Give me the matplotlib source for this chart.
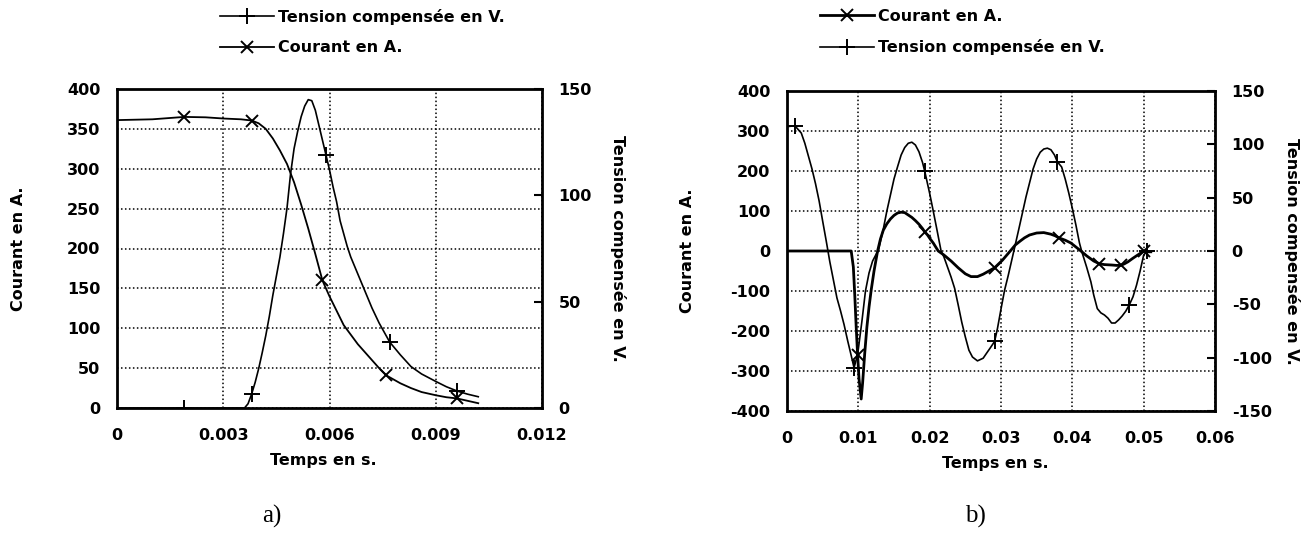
import numpy as np
import matplotlib
matplotlib.use('Agg')
import matplotlib.pyplot as plt
from matplotlib.ticker import FuncFormatter

plt.rcParams['font.family'] = ['DejaVu Sans']
plt.rcParams['font.size'] = 11.5
plt.rcParams['font.weight'] = 'bold'
plt.rcParams['axes.labelweight'] = 'bold'
plt.rcParams['axes.unicode_minus'] = False

# ---- panel a) : courant (A, left axis) and tension compensée (V, right axis)
t_courant_a = [0, 0.001, 0.0019, 0.0025, 0.003, 0.0035, 0.0038,
               0.0040, 0.0042, 0.0044, 0.0046, 0.0048, 0.0050, 0.0052, 0.0054,
               0.0056, 0.0058, 0.0060, 0.0062, 0.0064, 0.0066, 0.0068, 0.0070,
               0.0072, 0.0074, 0.0076, 0.0078, 0.0080,
               0.0083, 0.0086, 0.0090, 0.0093, 0.0096, 0.0099, 0.0102]
courant_a = [361, 362, 365, 364.5, 363, 362, 360.5,
             357, 350, 338, 323, 306, 283, 255, 225,
             193, 160, 140, 122, 104, 92, 80, 70,
             60, 50, 41, 36, 31,
             25, 20, 16, 13.5, 12, 9, 6]
courant_a_marks = [0.0019, 0.0038, 0.0058, 0.0076, 0.0096]

t_tension_a = [0, 0.001, 0.0019, 0.003,
               0.0036, 0.0037, 0.0038, 0.0039, 0.0040, 0.0041, 0.0042, 0.0043,
               0.0044, 0.0045, 0.0046, 0.0047, 0.0048, 0.0049, 0.0050, 0.0051,
               0.0052, 0.0053, 0.0054, 0.0055, 0.0056, 0.0057, 0.0058, 0.0059,
               0.0060, 0.0061, 0.0062, 0.0063, 0.0064, 0.0065, 0.0066,
               0.0068, 0.0070, 0.0072, 0.0074, 0.0077, 0.0080, 0.0083, 0.0086,
               0.0090, 0.0093, 0.0096, 0.0099, 0.0102]
tension_a = [0, 0, 0, 0,
             0, 2, 6.5, 12, 18.5, 26, 34, 43,
             53, 62, 71, 82, 94, 110, 122, 130,
             137, 142, 145, 144.5, 140, 133, 126, 119,
             112, 104, 97, 88, 82, 76, 71,
             63, 55, 47, 40, 31, 25, 19.5, 16,
             12.5, 10, 8, 6.5, 5.3]
tension_a_marks = [0.0019, 0.0038, 0.0059, 0.0077, 0.0096]

# ---- panel b)
t_courant_b = [0, 0.003, 0.006, 0.009, 0.0093, 0.0095, 0.0097, 0.0099, 0.0101,
               0.0104, 0.0106, 0.0109, 0.0112, 0.0115, 0.0118, 0.0122, 0.0127,
               0.0131, 0.0135, 0.014, 0.0145, 0.015, 0.0155, 0.016, 0.0165,
               0.017, 0.0175, 0.018, 0.0185, 0.019, 0.0193, 0.0197, 0.02,
               0.0205, 0.0212, 0.022, 0.023, 0.024, 0.025, 0.0258, 0.0267,
               0.0275, 0.0283, 0.0291, 0.0302, 0.0313, 0.032, 0.0327, 0.0333,
               0.034, 0.035, 0.036, 0.037, 0.0376, 0.0381, 0.039, 0.0398,
               0.0405, 0.0412, 0.042, 0.043, 0.0438, 0.0445, 0.0455, 0.0462,
               0.0468, 0.0473, 0.0478, 0.0485, 0.049, 0.0496, 0.0501, 0.0506, 0.051]
courant_b = [0, 0, 0, 0, -40, -110, -190, -260, -320,
             -370, -330, -255, -190, -140, -98, -50, 0,
             30, 52, 68, 80, 89, 95, 97, 96,
             90, 84, 76, 67, 56, 48, 40, 32,
             20, 0, -10, -25, -42, -57, -64, -64,
             -58, -50, -42, -23, 0, 15, 25, 33,
             40, 45, 46, 42, 38, 33, 27, 20,
             10, 0, -12, -25, -32, -34, -35, -36,
             -36, -32, -27, -18, -12, -5, 0, -2, -2]
courant_b_marks = [0.0099, 0.0193, 0.0291, 0.0381, 0.0438, 0.0468, 0.0501]

t_tension_b = [0, 0.0011, 0.002, 0.0025, 0.003, 0.0035, 0.004, 0.0045, 0.005,
               0.0055, 0.006, 0.0065, 0.007, 0.0075, 0.008, 0.0085, 0.009,
               0.0094, 0.0097, 0.01, 0.0105, 0.011, 0.0115, 0.012, 0.0125,
               0.0128, 0.0135, 0.014, 0.0145, 0.015, 0.0155, 0.016, 0.0165,
               0.017, 0.0175, 0.018, 0.0185, 0.019, 0.0193, 0.02, 0.0205,
               0.021, 0.0216, 0.022, 0.0225, 0.023, 0.0235, 0.024, 0.0245,
               0.025, 0.0255, 0.026, 0.0267, 0.0275, 0.028, 0.0285, 0.0291,
               0.0295, 0.03, 0.0305, 0.031, 0.0318, 0.0325, 0.033, 0.0335,
               0.034, 0.0345, 0.035, 0.0355, 0.036, 0.0365, 0.037, 0.0375,
               0.0379, 0.0385, 0.039, 0.0395, 0.04, 0.0405, 0.041, 0.0413,
               0.042, 0.0426, 0.043, 0.0435, 0.044, 0.0445, 0.045, 0.0455,
               0.046, 0.0465, 0.047, 0.0475, 0.048, 0.0485, 0.049, 0.0495,
               0.05, 0.0505, 0.051]
tension_b = [116.6, 117.4, 110.6, 101, 89, 77, 63, 47, 28,
             9.4, -10, -27, -44, -56, -69, -84, -98,
             -109.5, -102, -92, -66, -37.5, -20.6, -9.4, -3,
             0, 20.6, 37.5, 52.5, 67.5, 79, 90, 97,
             101, 102, 99.4, 93, 83, 75, 54, 37.5,
             20.6, 0, -5.6, -15, -24.4, -35, -50.6, -66.8,
             -80.6, -93, -99.4, -103, -100.5, -95.6, -90.8, -84.8,
             -72.8, -54.4, -36.8, -23.3, 0, 20.6, 35.6, 50.6,
             63.8, 76.9, 86.3, 92.6, 95.6, 96.4, 94.9, 90,
             83.6, 78.8, 67.5, 54.4, 40, 24.4, 7.5, 0,
             -15, -28.9, -41.3, -54, -58, -60, -63, -67.5,
             -67.5, -64.5, -60.8, -56.3, -50.3, -43, -32, -18.8,
             -3.8, 0, 0]
tension_b_marks = [0.0011, 0.0094, 0.0193, 0.0291, 0.0379, 0.048, 0.0505]

xticks_a = [0, 0.003, 0.006, 0.009, 0.012]
xticks_b = [0, 0.01, 0.02, 0.03, 0.04, 0.05, 0.06]
yleft_a = [0, 50, 100, 150, 200, 250, 300, 350, 400]
yright_a = [0, 50, 100, 150]
yleft_b = [-400, -300, -200, -100, 0, 100, 200, 300, 400]
yright_b = [-150, -100, -50, 0, 50, 100, 150]

W, H = 1304, 538
fig = plt.figure(figsize=(W / 100, H / 100), dpi=100)
fmt = FuncFormatter(lambda v, pos: '%g' % round(v, 6))


def panel(box, t_cur, cur, cur_marks, t_ten, ten, ten_marks,
          xticks, yleft, yright, cur_lw):
    x0, y0, x1, y1 = box
    ax = fig.add_axes([x0 / W, 1 - y1 / H, (x1 - x0) / W, (y1 - y0) / H])
    ax2 = ax.twinx()

    l_cur, = ax.plot(t_cur, cur, color='k', lw=cur_lw, marker='x', ms=8,
                     mew=1.4, markevery=np.isin(t_cur, cur_marks),
                     label='Courant en A.')
    l_ten, = ax2.plot(t_ten, ten, color='k', lw=1.2, marker='+', ms=11,
                      mew=1.4, markevery=np.isin(t_ten, ten_marks),
                      label='Tension compensée en V.')

    ax.set_xlim(xticks[0], xticks[-1])
    ax.set_xticks(xticks)
    ax.xaxis.set_major_formatter(fmt)
    ax.set_ylim(yleft[0], yleft[-1])
    ax.set_yticks(yleft)
    ax2.set_ylim(yright[0], yright[-1])
    ax2.set_yticks(yright)

    ax.grid(True, color='k', ls=(0, (1, 1.6)), lw=1.1)
    ax.tick_params(axis='x', length=0, pad=14.5)
    ax.tick_params(axis='y', length=0, pad=12)
    ax2.tick_params(axis='y', direction='in', length=6, width=1.5, pad=12)
    for s in ax.spines.values():
        s.set_linewidth(2)
    for s in ax2.spines.values():
        s.set_visible(False)

    ax.set_xlabel('Temps en s.')
    ax.xaxis.set_label_coords(0.486, -0.14)
    ax.set_ylabel('Courant en A.')
    ax.yaxis.set_label_coords(-0.214, 0.5)
    ax2.set_ylabel('Tension compensée en V.', rotation=-90, va='center')
    ax2.yaxis.set_label_coords(1.18, 0.5)
    return l_cur, l_ten


ca, ta = panel((117, 89, 542, 408), t_courant_a, courant_a, courant_a_marks,
               t_tension_a, tension_a, tension_a_marks,
               xticks_a, yleft_a, yright_a, 1.3)
cb, tb = panel((787, 91, 1215, 411), t_courant_b, courant_b, courant_b_marks,
               t_tension_b, tension_b, tension_b_marks,
               xticks_b, yleft_b, yright_b, 2.0)

leg_kw = dict(loc='upper left', frameon=False, borderpad=0, borderaxespad=0,
              handlelength=3.4, handletextpad=0.2, labelspacing=0.95)
fig.legend(handles=[ta, ca], bbox_to_anchor=(220 / W, 1 - 9 / H), **leg_kw)
fig.legend(handles=[cb, tb], bbox_to_anchor=(820 / W, 1 - 9 / H), **leg_kw)

fig.text(272 / W, 1 - 516 / H, 'a)', ha='center', va='center',
         family='Liberation Serif', fontsize=18, fontweight='normal')
fig.text(975 / W, 1 - 516 / H, 'b)', ha='center', va='center',
         family='Liberation Serif', fontsize=18, fontweight='normal')

fig.savefig('out.png', dpi=100)
